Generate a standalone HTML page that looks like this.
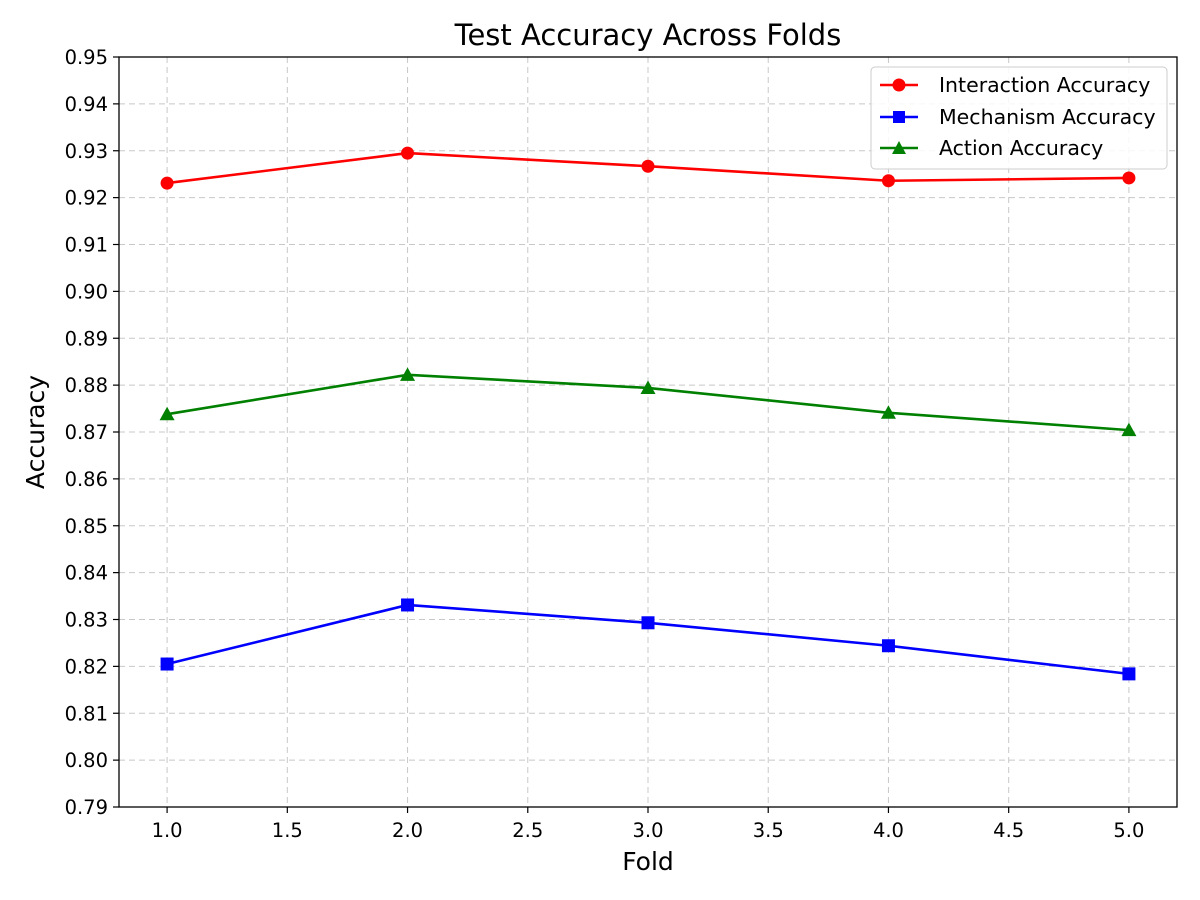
<!DOCTYPE html>
<html><head><meta charset="utf-8">
<style>
html,body{margin:0;padding:0;background:#fff;}
svg{display:block;font-family:"DejaVu Sans","Liberation Sans",sans-serif;}
</style></head>
<body>
<svg id="chart" width="1200" height="900" viewBox="0 0 1200 900">
<rect x="0" y="0" width="1200" height="900" fill="#fff"/>
<g id="grid"></g>
<g id="series"></g>
<rect x="119" y="57" width="1058" height="750" fill="none" stroke="#000" stroke-width="1.3"/>
<g id="ticks"></g>
<text x="648" y="45" font-size="29" text-anchor="middle">Test Accuracy Across Folds</text>
<text x="648" y="870" font-size="25" text-anchor="middle">Fold</text>
<text x="44" y="432" font-size="25" text-anchor="middle" transform="rotate(-90 44 432)">Accuracy</text>
<g>
<rect x="871" y="67" width="296" height="102" rx="4" fill="#fff" fill-opacity="0.85" stroke="#ccc"/>
<g>
<line x1="880" y1="85" x2="918" y2="85" stroke="red" stroke-width="2.6"/><circle cx="899" cy="85" r="6.5" fill="red"/>
<text x="939" y="92" font-size="20.5">Interaction Accuracy</text></g>
<g>
<line x1="880" y1="117" x2="918" y2="117" stroke="blue" stroke-width="2.6"/><rect x="893" y="111" width="12" height="12" fill="blue"/>
<text x="939" y="124" font-size="20.5">Mechanism Accuracy</text></g>
<g>
<line x1="880" y1="148" x2="918" y2="148" stroke="green" stroke-width="2.6"/><polygon points="899,141 906,154 892,154" fill="green"/>
<text x="939" y="155" font-size="20.5">Action Accuracy</text></g>
</g>
</svg>
<script>
const folds = [1, 2, 3, 4, 5];
const interactionAcc = [0.9231, 0.9295, 0.9267, 0.9236, 0.9242];
const mechanismAcc = [0.8205, 0.8331, 0.8293, 0.8244, 0.8184];
const actionAcc = [0.8738, 0.8822, 0.8794, 0.8741, 0.8704];
const xTicks = [1.0, 1.5, 2.0, 2.5, 3.0, 3.5, 4.0, 4.5, 5.0];
const yTicks = [0.79,0.80,0.81,0.82,0.83,0.84,0.85,0.86,0.87,0.88,0.89,0.90,0.91,0.92,0.93,0.94,0.95];

const NS = "http://www.w3.org/2000/svg";
const L=119,R=1177,T=57,B=807,XMIN=0.8,XMAX=5.2,YMIN=0.79,YMAX=0.95;
const sx = v => L + (v-XMIN)/(XMAX-XMIN)*(R-L);
const sy = v => B - (v-YMIN)/(YMAX-YMIN)*(B-T);
function mk(tag, attrs, parent){const e=document.createElementNS(NS,tag);for(const k in attrs)e.setAttribute(k,attrs[k]);parent.appendChild(e);return e;}
const grid=document.getElementById('grid'), ticks=document.getElementById('ticks'), ser=document.getElementById('series');

xTicks.forEach(t=>{
  const x=sx(t);
  const g=mk('line',{x1:x,x2:x,y1:T,y2:B,stroke:'#b0b0b0','stroke-width':1,'stroke-dasharray':'6,4','stroke-opacity':0.7},grid);
  
  
  mk('line',{x1:x,x2:x,y1:B,y2:B+6,stroke:'#000','stroke-width':1.2},ticks);
  const tx=mk('text',{x:x,y:B+30,'font-size':19.5,'text-anchor':'middle'},ticks);
  tx.textContent=t.toFixed(1);
  
  
});
yTicks.forEach(t=>{
  const y=sy(t);
  const g=mk('line',{x1:L,x2:R,y1:y,y2:y,stroke:'#b0b0b0','stroke-width':1,'stroke-dasharray':'6,4','stroke-opacity':0.7},grid);
  
  
  mk('line',{x1:L-6,x2:L,y1:y,y2:y,stroke:'#000','stroke-width':1.2},ticks);
  const tx=mk('text',{x:L-11,y:y+7,'font-size':19.5,'text-anchor':'end'},ticks);
  tx.textContent=t.toFixed(2);
  
  
});

function drawSeries(vals,color,marker,name){
  const g=mk('g',{},ser);
  
  
  const pts=folds.map((f,i)=>sx(f)+','+sy(vals[i])).join(' ');
  const pl=mk('polyline',{points:pts,fill:'none',stroke:color,'stroke-width':2.6},g);
  
  
  folds.forEach((f,i)=>{
    const x=sx(f),y=sy(vals[i]);let m;
    if(marker==='o') m=mk('circle',{cx:x,cy:y,r:6.5,fill:color},g);
    else if(marker==='s') m=mk('rect',{x:x-6.5,y:y-6.5,width:13,height:13,fill:color},g);
    else m=mk('polygon',{points:`${x},${y-7.5} ${x+7.5},${y+6} ${x-7.5},${y+6}`,fill:color},g);
    
    
  });
}
drawSeries(interactionAcc,'red','o','interaction');
drawSeries(mechanismAcc,'blue','s','mechanism');
drawSeries(actionAcc,'green','^','action');
</script>
</body></html>
